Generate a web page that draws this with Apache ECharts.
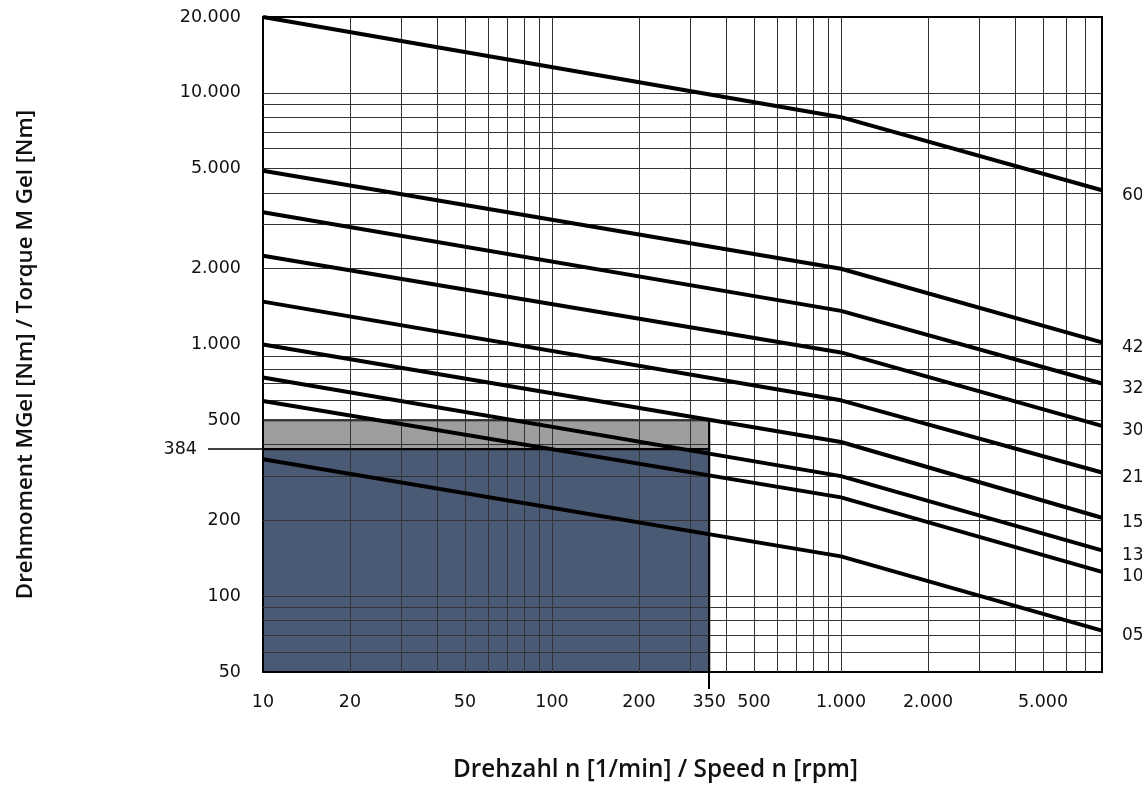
<!DOCTYPE html>
<html>
<head>
<meta charset="utf-8">
<script src="https://cdn.jsdelivr.net/npm/echarts@6/dist/echarts.min.js"></script>
<style>
  html, body { margin: 0; padding: 0; background: #fff; }
  #chart { width: 1142px; height: 787px; }
</style>
</head>
<body>
<div id="chart"></div>
<script>
// Drehzahl-Stützstellen (1/min)
const speeds = [10, 1000, 8000]

// Drehmoment je Baugröße (Nm) an den Stützstellen
const sizeNames = ['60', '42', '32', '30', '21', '15', '13', '10', '05']
const torque60 = [20000, 8000, 4100]
const torque42 = [4900, 2000, 1020]
const torque32 = [3350, 1360, 700]
const torque30 = [2250, 930, 475]
const torque21 = [1480, 600, 310]
const torque15 = [1000, 410, 205]
const torque13 = [740, 300, 152]
const torque10 = [596, 247, 125]
const torque05 = [350, 144, 73]
const torques = [torque60, torque42, torque32, torque30, torque21, torque15, torque13, torque10, torque05]

// Achsbeschriftungen
const xTickLabels = [10, 20, 50, 100, 200, 350, 500, 1000, 2000, 5000]
const yTickLabels = [50, 100, 200, 500, 1000, 2000, 5000, 10000, 20000]
const xGridValues = [20, 30, 40, 50, 60, 70, 80, 90, 100, 200, 300, 400, 500, 600, 700, 800, 900, 1000, 2000, 3000, 4000, 5000, 6000, 7000]
const yGridValues = [60, 70, 80, 90, 100, 200, 300, 400, 500, 600, 700, 800, 900, 1000, 2000, 3000, 4000, 5000, 6000, 7000, 8000, 9000, 10000]

// Betriebsbereich
const limitSpeed = 350
const ratedTorque = 384
const peakTorque = 500
const xRange = [10, 8000]
const yRange = [50, 20000]

const tickFont = 'DejaVu Sans'
const titleFont = 'Open Sans'

function fmt(v) {
  return String(Math.round(v)).replace(/\B(?=(\d{3})+(?!\d))/g, '.')
}

const chart = echarts.init(document.getElementById('chart'))

const curveSeries = sizeNames.map((name, i) => ({
  name,
  type: 'line',
  z: 5,
  symbol: 'none',
  data: speeds.map((s, j) => [s, torques[i][j]]),
  lineStyle: { color: '#000', width: 4 },
  endLabel: {
    show: true,
    formatter: '{a}',
    distance: 20,
    offset: [0, 5],
    color: '#111',
    fontSize: 17,
    fontFamily: tickFont,
  },
}))

chart.setOption({
  animation: false,
  grid: {
    left: 263,
    right: 40,
    top: 17,
    bottom: 114,
    show: true,
    borderColor: '#000',
    borderWidth: 2,
  },
  xAxis: {
    type: 'log',
    min: xRange[0],
    max: xRange[1],
    name: 'Drehzahl n [1/min] / Speed n [rpm]',
    nameLocation: 'middle',
    nameGap: 86,
    nameTextStyle: { fontSize: 24.3, fontWeight: 600, fontFamily: titleFont, color: '#111', padding: [0, 54, 0, 0] },
    axisLine: { lineStyle: { color: '#000', width: 2 } },
    splitLine: { show: false },
    minorSplitLine: { show: false },
    axisTick: { customValues: [limitSpeed], length: 17, lineStyle: { color: '#000', width: 2 } },
    axisLabel: {
      customValues: xTickLabels,
      formatter: fmt,
      margin: 21,
      fontSize: 17.5,
      fontFamily: tickFont,
      color: '#111',
    },
  },
  yAxis: [
    {
      type: 'log',
      min: yRange[0],
      max: yRange[1],
      name: 'Drehmoment MGel [Nm] / Torque M Gel [Nm]',
      nameLocation: 'middle',
      nameGap: 226,
      nameTextStyle: { fontSize: 22.3, fontWeight: 600, fontFamily: titleFont, color: '#111', padding: [0, 20, 0, 0] },
      axisLine: { lineStyle: { color: '#000', width: 2 } },
      splitLine: { show: false },
      axisTick: { show: false },
      axisLabel: {
        customValues: yTickLabels,
        formatter: fmt,
        margin: 22,
        fontSize: 17.5,
        fontFamily: tickFont,
        color: '#111',
      },
    },
    {
      type: 'log',
      min: yRange[0],
      max: yRange[1],
      position: 'left',
      axisLine: { show: false },
      splitLine: { show: false },
      axisTick: { customValues: [ratedTorque], length: 55, lineStyle: { color: '#000', width: 1.5 } },
      axisLabel: {
        customValues: [ratedTorque],
        formatter: fmt,
        margin: 66,
        fontSize: 17.5,
        fontFamily: tickFont,
        color: '#111',
      },
    },
  ],
  series: [
    {
      type: 'line',
      z: 1,
      data: [],
      markArea: {
        silent: true,
        data: [
          [
            { coord: [xRange[0], ratedTorque], itemStyle: { color: '#9d9f9f', opacity: 1, borderColor: '#000', borderWidth: 2 } },
            { coord: [limitSpeed, peakTorque] },
          ],
          [
            { coord: [xRange[0], yRange[0]], itemStyle: { color: '#4b5a74', opacity: 1, borderColor: '#000', borderWidth: 2 } },
            { coord: [limitSpeed, ratedTorque] },
          ],
        ],
      },
    },
    {
      type: 'line',
      z: 2,
      data: [],
      markLine: {
        silent: true,
        symbol: ['none', 'none'],
        label: { show: false },
        lineStyle: { color: '#333', width: 1, type: 'solid', opacity: 1 },
        data: [
          ...xGridValues.map((v) => ({ xAxis: v })),
          ...yGridValues.map((v) => ({ yAxis: v })),
        ],
      },
    },
    {
      type: 'line',
      z: 3,
      data: [],
      markLine: {
        silent: true,
        symbol: ['none', 'none'],
        label: { show: false },
        lineStyle: { color: '#000', width: 1.5, type: 'solid', opacity: 1 },
        data: [
          [{ coord: [xRange[0], ratedTorque] }, { coord: [limitSpeed, ratedTorque] }],
          [{ coord: [limitSpeed, yRange[0]] }, { coord: [limitSpeed, peakTorque] }],
        ],
      },
    },
    ...curveSeries,
  ],
})
</script>
</body>
</html>
